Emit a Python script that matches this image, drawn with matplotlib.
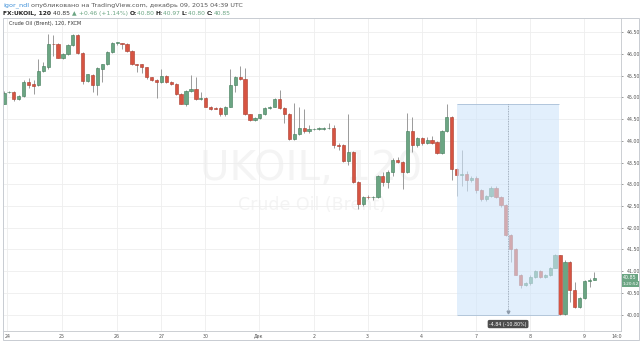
import numpy as np
import matplotlib
matplotlib.use("Agg")
import matplotlib.pyplot as plt
from matplotlib.patches import Rectangle

# 2h candles, FXCM UKOIL, 24 Nov - 9 Dec 2015
opens = [44.86, 45.12, 45.12, 44.97, 45.03, 45.36, 45.30, 45.28, 45.62, 45.69,
         46.23, 46.23, 45.90, 45.99, 46.20, 46.44, 46.02, 45.38, 45.52, 45.29,
         45.65, 45.76, 46.04, 46.26, 46.25, 46.23, 46.08, 45.76, 45.76, 45.69,
         45.46, 45.40, 45.35, 45.49, 45.36, 45.31, 45.08, 44.86, 45.15, 45.19,
         44.96, 44.99, 44.79, 44.75, 44.75, 44.61, 44.79, 45.29, 45.48, 45.42,
         44.61, 44.48, 44.53, 44.61, 44.75, 44.79, 44.96, 44.75, 44.63, 44.04,
         44.15, 44.29, 44.22, 44.27, 44.28, 44.28, 44.29, 44.30, 43.90, 43.90,
         43.54, 43.75, 43.06, 42.54, 42.71, 42.70, 42.70, 43.19, 43.06, 43.29,
         43.57, 43.52, 43.29, 44.23, 43.90, 44.06, 43.96, 44.02, 43.98, 43.73,
         44.23, 44.56, 43.35, 43.21, 43.23, 43.10, 43.15, 42.87, 42.65, 42.73,
         42.92, 42.70, 42.52, 41.83, 41.51, 40.92, 40.68, 40.72, 40.87, 41.01,
         40.87, 40.90, 41.08, 41.37, 40.02, 41.21, 40.56, 40.18, 40.38, 40.77,
         40.80]
highs = [45.15, 45.15, 45.14, 45.05, 45.40, 45.44, 45.40, 45.88, 45.82, 46.46,
         46.44, 46.25, 46.02, 46.22, 46.46, 46.46, 46.04, 45.55, 45.54, 45.70,
         45.78, 46.06, 46.28, 46.27, 46.26, 46.25, 46.10, 45.77, 45.78, 45.71,
         45.48, 45.42, 45.65, 45.52, 45.38, 45.33, 45.10, 45.17, 45.52, 45.48,
         45.12, 45.01, 44.80, 44.77, 44.77, 44.81, 45.65, 45.50, 45.72, 45.67,
         44.63, 44.55, 44.63, 44.77, 44.81, 44.98, 45.17, 44.77, 44.65, 44.88,
         44.79, 44.73, 44.36, 44.30, 44.31, 44.31, 44.40, 44.36, 43.95, 43.92,
         44.63, 43.77, 43.08, 42.73, 42.75, 42.74, 43.21, 43.28, 43.33, 43.60,
         43.62, 43.54, 44.65, 44.54, 44.10, 44.10, 44.08, 44.12, 44.00, 44.25,
         44.84, 44.58, 43.37, 43.78, 43.30, 43.20, 43.18, 42.89, 42.76, 42.95,
         42.95, 42.72, 42.55, 41.86, 41.53, 40.94, 40.75, 40.90, 41.03, 41.03,
         40.94, 41.10, 41.40, 41.38, 41.25, 41.23, 40.75, 40.40, 40.80, 40.84,
         40.97]
lows = [44.85, 45.10, 44.92, 44.93, 45.01, 45.21, 45.08, 45.26, 45.59, 45.65,
        45.95, 45.90, 45.88, 45.97, 46.18, 46.00, 45.32, 45.36, 45.13, 45.06,
        45.35, 45.74, 46.02, 46.20, 46.12, 46.05, 45.74, 45.59, 45.56, 45.43,
        45.38, 44.99, 45.33, 45.33, 45.28, 45.06, 44.84, 44.80, 45.13, 44.94,
        44.94, 44.77, 44.72, 44.73, 44.58, 44.58, 44.77, 45.13, 45.40, 44.60,
        44.46, 44.46, 44.51, 44.59, 44.73, 44.77, 44.73, 44.40, 44.02, 44.02,
        44.13, 44.18, 44.17, 44.24, 44.25, 44.26, 44.27, 43.83, 43.80, 43.52,
        43.44, 43.04, 42.44, 42.50, 42.66, 42.64, 42.68, 42.95, 42.91, 43.20,
        43.49, 42.90, 43.27, 43.75, 43.85, 43.90, 43.92, 43.93, 43.69, 43.70,
        44.20, 43.10, 42.72, 42.95, 42.84, 43.05, 42.80, 42.62, 42.62, 42.70,
        42.68, 42.48, 41.80, 41.20, 40.90, 40.62, 40.65, 40.68, 40.85, 40.85,
        40.85, 40.88, 41.06, 40.00, 40.00, 40.28, 40.16, 40.14, 40.36, 40.64,
        40.80]
closes = [45.11, 45.13, 44.97, 45.03, 45.36, 45.29, 45.27, 45.62, 45.72, 46.23,
          46.22, 45.92, 45.99, 46.20, 46.44, 46.02, 45.38, 45.53, 45.29, 45.67,
          45.76, 46.04, 46.26, 46.26, 46.24, 46.08, 45.76, 45.75, 45.69, 45.46,
          45.40, 45.35, 45.49, 45.35, 45.31, 45.08, 44.86, 45.15, 45.19, 44.96,
          44.99, 44.79, 44.73, 44.74, 44.62, 44.79, 45.29, 45.48, 45.42, 44.61,
          44.48, 44.53, 44.61, 44.75, 44.79, 44.96, 44.75, 44.63, 44.04, 44.15,
          44.29, 44.22, 44.27, 44.28, 44.28, 44.29, 44.30, 43.90, 43.87, 43.54,
          43.75, 43.06, 42.54, 42.71, 42.70, 42.70, 43.19, 43.06, 43.29, 43.57,
          43.52, 43.29, 44.23, 43.90, 44.06, 43.96, 44.02, 43.96, 43.73, 44.23,
          44.56, 43.35, 43.21, 43.24, 43.10, 43.15, 42.87, 42.65, 42.73, 42.92,
          42.70, 42.52, 41.83, 41.51, 40.92, 40.68, 40.72, 40.87, 41.01, 40.87,
          40.92, 41.08, 41.37, 40.02, 41.21, 40.56, 40.18, 40.38, 40.77, 40.79,
          40.85]

day_pos = [0.67, 11.8, 22.9, 32.0, 40.9, 51.8, 63.0, 73.9, 84.9, 95.9, 106.9, 117.9]
day_labels = ['24', '25', '26', '27', '30', 'Дек', '2', '3', '4', '7', '8', '9']
price_ticks = [40.0, 40.5, 41.0, 41.5, 42.0, 42.5, 43.0, 43.5, 44.0, 44.5, 45.0, 45.5, 46.0, 46.5]

# measure tool (drawn by the author)
meas_start, meas_end = 92.0, 112.9
meas_top, meas_bottom = 44.84, 40.00
meas_text = '-4.84 (-10.80%)'

UP = '#6ba583'
DOWN = '#d75442'
UP_EDGE = '#3f7a57'
DOWN_EDGE = '#a83a2c'
WICK = '#9a9a9a'
GRID = '#eeeeee'
TXT = '#555555'

W, H = 640, 342
fig = plt.figure(figsize=(W / 100, H / 100), dpi=100)
fig.patch.set_facecolor('white')
ax = fig.add_axes([3 / W, 1 - 331 / H, 618 / W, 313 / H])

o = np.array(opens)
h = np.array(highs)
l = np.array(lows)
c = np.array(closes)
x = np.arange(len(o))
up = c >= o

ax.vlines(x, l, h, color=WICK, lw=0.7, zorder=2)
body_bot = np.minimum(o, c)
body_h = np.maximum(np.abs(c - o), 0.012)
ax.bar(x[up], body_h[up], bottom=body_bot[up], width=0.66,
       color=UP, edgecolor=UP_EDGE, linewidth=0.4, zorder=3)
ax.bar(x[~up], body_h[~up], bottom=body_bot[~up], width=0.66,
       color=DOWN, edgecolor=DOWN_EDGE, linewidth=0.4, zorder=3)

ax.set_xlim(-0.2, 125.4)
ax.set_ylim(39.62, 46.83)

# watermark
ax.text(62.5, 43.35, 'UKOIL, 120', ha='center', va='center', fontsize=29,
        color='#f4f4f4', zorder=0)
ax.text(62.5, 42.53, 'Crude Oil (Brent)', ha='center', va='center', fontsize=12.5,
        color='#f4f4f4', zorder=0)

# measure box
ax.add_patch(Rectangle((meas_start, meas_bottom), meas_end - meas_start, meas_top - meas_bottom,
                       facecolor='#cfe5fb', alpha=0.6, edgecolor='none', zorder=5))
ax.hlines([meas_top, meas_bottom], meas_start, meas_end, color='#a9bfd6', lw=0.6, zorder=6)
mid = (meas_start + meas_end) / 2
ax.vlines(mid, meas_bottom + 0.04, meas_top, color='#8d9aaa', lw=0.6, linestyles=(0, (1, 1)), zorder=6)
ax.plot(mid, meas_bottom + 0.05, marker='v', ms=2, color='#8d9aaa', zorder=6)
ax.text(mid, 39.78, meas_text, ha='center', va='center', fontsize=3.4, color='white',
        zorder=7, bbox=dict(boxstyle='round,pad=0.35', fc='#4d4d4d', ec='none'))

# grid / axes
ax.set_yticks(price_ticks)
ax.set_yticklabels(['%.2f' % p for p in price_ticks])
ax.set_xticks(day_pos)
ax.set_xticklabels(day_labels)
ax.grid(True, color=GRID, lw=0.6, zorder=0)
ax.set_axisbelow(True)
ax.yaxis.tick_right()
ax.tick_params(axis='y', labelsize=3.4, colors=TXT, length=1.5, width=0.4, pad=2.5)
ax.tick_params(axis='x', labelsize=3.4, colors=TXT, length=0, pad=1.8)
for s in ['top', 'left']:
    ax.spines[s].set_visible(False)
for s in ['right', 'bottom']:
    ax.spines[s].set_color('#c4c8cc')
    ax.spines[s].set_linewidth(0.6)
ax.text(613.7 / 618, -0.011, '14:0', transform=ax.transAxes, ha='center', va='top',
        fontsize=3.4, color=TXT)

# last price labels on the price scale
ax.text(1.003, 40.85, '40.85', transform=ax.get_yaxis_transform(), ha='left', va='center',
        fontsize=3.4, color='white', zorder=8,
        bbox=dict(boxstyle='square,pad=0.25', fc=UP, ec='none'))
ax.text(1.003, 40.70, '1:20:52', transform=ax.get_yaxis_transform(), ha='left', va='center',
        fontsize=3.1, color='white', zorder=8,
        bbox=dict(boxstyle='square,pad=0.25', fc=UP, ec='none'))

# series legend inside pane
ax.text(6 / 618, 1 - 6 / 313, 'Crude Oil (Brent), 120, FXCM', transform=ax.transAxes,
        ha='left', va='center', fontsize=3.6, color='#333333')

# outer frame
fig.add_artist(Rectangle((3 / W, 1 - 340 / H), 636 / W, 322 / H, transform=fig.transFigure,
                         fill=False, ec='#c8ccd2', lw=0.7))

# header lines, pieces placed one after another
renderer = fig.canvas.get_renderer()


def put_pieces(pieces, x0, y0, size):
    xp = x0
    for txt, col, wt in pieces:
        t = fig.text(xp / W, 1 - y0 / H, txt, ha='left', va='center', fontsize=size,
                     color=col, fontweight=wt)
        bb = t.get_window_extent(renderer=renderer)
        xp += bb.width


put_pieces([('igor_ndl', '#3b8ed8', 'normal'),
            (' опубликовано на TradingView.com, декабрь 09, 2015 04:39 UTC', '#555555', 'normal')],
           3, 5, 4.6)
put_pieces([('FX:UKOIL, 120 ', '#222222', 'bold'),
            ('40.85 ', '#333333', 'normal'),
            ('▲', UP, 'normal'),
            (' +0.46 (+1.14%) ', UP, 'normal'),
            ('O:', '#222222', 'bold'), ('40.80 ', UP, 'normal'),
            ('H:', '#222222', 'bold'), ('40.97 ', UP, 'normal'),
            ('L:', '#222222', 'bold'), ('40.80 ', UP, 'normal'),
            ('C:', '#222222', 'bold'), ('40.85', UP, 'normal')],
           3, 13.5, 4.3)

fig.savefig('out.png', dpi=100)
